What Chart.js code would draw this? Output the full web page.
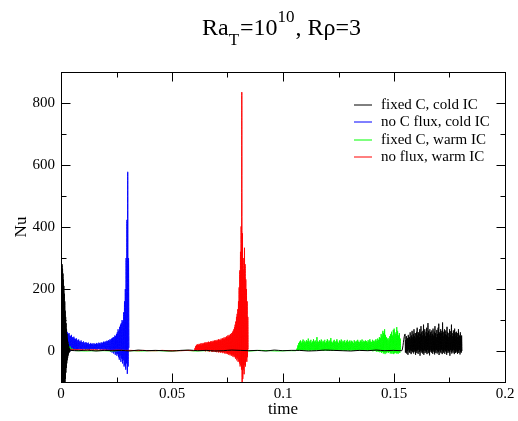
<!DOCTYPE html>
<html>
<head>
<meta charset="utf-8">
<script src="https://cdn.jsdelivr.net/npm/chart.js@4.4.0/dist/chart.umd.min.js"></script>
<style>
    body { margin: 0; background: #fff; }
    canvas { display: block; }
</style>
</head>
<body>
<canvas id="nuChart" width="518" height="421"></canvas>
<script>
// Axis ticks
const xTicks = [0, 0.05, 0.1, 0.15, 0.2];
const xMinorTicks = [0.025, 0.075, 0.125, 0.175];
const yTicks = [0, 200, 400, 600, 800];
const yMinorTicks = [-100, 100, 300, 500, 700, 900];

const seriesNames = ['fixed C, cold IC', 'no C flux, cold IC', 'fixed C, warm IC', 'no flux, warm IC'];
const seriesColors = ['#000000', '#0000ff', '#00ff00', '#ff0000'];

// fixed C, cold IC (black)
const blackStartNu = [40, 285, -150, 275, -150, 280, -150, 265, -150, 250, -150, 230, -150, 210, -150, 185, -150, 160, -140, 130,
    -90, 110, -70, 90, -55, 70, -40, 55, -30, 40, -22, 30, -15, 22, -10, 15, -6, 10, -3, 6];
const blackFlatNu = [2, 1, 3, 0, 2, 1, 2, 0, 3, 1, 2, 1, 0, 2, 3, 1, 2, 0, 1, 3, 2, 1, 2, 0, 3, 1, 2, 2, 0, 1, 3, 2, 1, 0, 2, 1, 3, 1, 2, 1];
const blackEndPeaks = [55, 35, 48, 30, 42, 52, 38, 45, 60, 40,
    50, 65, 45, 55, 70, 48, 58, 42, 62, 75,
    50, 60, 45, 70, 55, 80, 60, 50, 65, 85,
    55, 70, 48, 62, 75, 58, 90, 65, 52, 70,
    60, 48, 66, 55, 72, 50, 62, 80, 58, 45,
    68, 55, 75, 88, 60, 50, 70, 58, 65, 92,
    62, 48, 70, 55, 66, 52, 78, 60, 45, 58,
    70, 52, 64, 85, 58, 48, 66, 55, 72, 60,
    50, 62, 45, 58, 70, 52, 48, 60, 42, 50];
const blackEndTroughs = [-5, 2, -8, 0, -12, 4, -3, -6, 2, -10,
    0, -4, 5, -8, -2, 3, -12, 0, -6, 2,
    -9, 4, -3, -15, 1, -5, 3, -8, -1, -12,
    2, -6, 0, -4, -10, 3, -7, 1, -14, -2,
    4, -5, 0, -9, 2, -3, -11, 1, -6, 3,
    -8, 0, -4, -13, 2, -2, -7, 4, -10, 0,
    -5, 3, -9, 1, -3, -12, 2, -6, 0, -4,
    -15, 3, -2, -8, 1, -5, 4, -10, -1, -6,
    2, -4, -9, 0, -6, 3, -11, -2, -5, 0];

// no C flux, cold IC (blue)
const bluePeaks = [108, 100, 95, 88, 82, 75, 70, 64, 60, 55,
    58, 50, 48, 52, 45, 43, 46, 40, 38, 41,
    36, 33, 37, 31, 30, 34, 29, 28, 31, 27,
    25, 29, 26, 24, 27, 23, 22, 26, 22, 24,
    21, 25, 23, 22, 26, 24, 23, 27, 25, 24,
    28, 26, 27, 30, 28, 31, 29, 33, 32, 35,
    33, 38, 36, 40, 42, 45, 43, 50, 48, 55,
    60, 70, 65, 78, 85, 90, 100, 95, 125, 160,
    200, 300, 423, 578, 300];
const blueTroughs = [-20, -26, 5, -15, 2, -10, 4, -8, 3, -5,
    5, 0, 4, 2, 6, 3, 5, 1, 6, 4,
    5, 6, 4, 7, 5, 6, 4, 5, 7, 6,
    5, 6, 7, 5, 6, 4, 6, 7, 5, 6,
    5, 7, 6, 4, 6, 5, 7, 6, 5, 4,
    6, 5, 3, 6, 4, 5, 2, 4, 3, 0,
    3, -2, 2, -5, 0, -8, -3, -12, -6, -15,
    -10, -20, -28, -15, -35, -25, -40, -30, -50, -45,
    -60, -40, -74, -50, 10];

// fixed C, warm IC (green)
const greenStartNu = [60, 15, 48, 10, 35, 6, 25, 4, 15, 3, 9, 2, 5, 1];
const greenFlatNu = [1, 0, 1, 1, 0, 2, 1, 0, 1, 1, 0, 1, 2, 0, 1, 1, 0, 1, 1, 0, 2, 1, 0, 1, 1];
const greenPeaks = [8, 18, 26, 30, 34, 27, 32, 37, 29, 33,
    28, 35, 31, 40, 29, 33, 36, 27, 31, 38,
    30, 34, 28, 45, 32, 29, 35, 31, 37, 28,
    33, 30, 36, 27, 32, 38, 29, 34, 31, 42,
    30, 27, 33, 36, 29, 32, 38, 30, 26, 34,
    31, 37, 28, 33, 30, 35, 27, 32, 36, 29,
    31, 34, 28, 33, 30, 26, 35, 31, 29, 33,
    36, 30, 28, 34, 31, 37, 29, 33, 30, 34,
    32, 28, 35, 30, 38, 31, 29, 36, 33, 30,
    34, 38, 32, 40, 36, 45, 42, 55, 48, 65,
    58, 70, 52, 45, 38, 42, 35, 48, 55, 62,
    50, 68, 72, 60, 55, 77, 65, 50, 58, 40];
const greenTroughs = [2, 0, 3, 1, 0, 2, 1, 3, 0, 2,
    1, 3, 0, 2, 1, 0, 3, 1, 2, 0,
    2, 1, 3, 0, 1, 2, 0, 3, 1, 2,
    0, 2, 1, 3, 0, 1, 2, 0, 3, 1,
    2, 0, 1, 3, 1, 0, 2, 1, 3, 0,
    1, 2, 0, 3, 1, 2, 0, 1, 3, 2,
    0, 1, 3, 0, 2, 1, 0, 2, 3, 1,
    0, 2, 1, 3, 0, 1, 2, 0, 3, 1,
    2, 0, 1, 3, 0, 2, 1, -1, 2, 0,
    1, -2, 0, -3, 1, -4, -2, -6, -3, -8,
    -5, -10, -4, -7, -2, -6, -3, -8, -5, -9,
    -4, -10, -7, -5, -8, -6, -9, -4, -6, 0];

// no flux, warm IC (red)
const redStartNu = [28, 8, 20, 5, 14, 4, 10, 4, 7, 4, 5];
const redFlatNu = [4, 4, 3, 4, 3, 3, 2, 3, 2, 2, 1, 2, 1, 1, 2, 1, 1, 1, 2, 1];
const redPeaks = [10, 16, 20, 18, 22, 19, 23, 21, 24, 20,
    25, 22, 26, 23, 27, 24, 28, 25, 29, 26,
    30, 27, 29, 31, 28, 32, 29, 33, 30, 34,
    31, 35, 32, 36, 33, 38, 34, 37, 35, 40,
    36, 41, 38, 43, 39, 45, 41, 47, 43, 50,
    46, 52, 48, 55, 50, 58, 60, 65, 70, 77,
    85, 95, 110, 120, 135, 160, 205, 260, 320, 402,
    835, 380, 263, 300, 333, 280, 231, 200, 160, 110];
const redTroughs = [2, 3, 1, 3, 2, 0, 3, 1, 2, 0,
    3, 1, 2, 0, 2, -1, 1, 0, 2, -1,
    1, -2, 0, 1, -2, 0, -3, 1, -2, 0,
    -3, -1, -4, 0, -2, -5, -1, -3, -6, -2,
    -4, -7, -3, -6, -8, -4, -9, -5, -10, -7,
    -12, -8, -14, -10, -15, -12, -18, -14, -20, -16,
    -25, -20, -30, -24, -35, -30, -40, -50, -45, -60,
    -150, -90, -60, -75, -45, -50, -30, -35, -20, 5];

// time spans [start, end] of each recorded piece
const blackSpans = [[0, 0.0039], [0.0042, 0.1535], [0.155, 0.1806]];
const blueSpans = [[0, 0.0306]];
const greenSpans = [[0, 0.0065], [0.007, 0.1058], [0.1063, 0.153]];
const redSpans = [[0, 0.005], [0.0055, 0.0600], [0.0604, 0.0843]];

function zip(peaks, troughs) {
    const out = [];
    for (let i = 0; i < peaks.length; i++) {
        out.push(peaks[i]);
        if (i < troughs.length) out.push(troughs[i]);
    }
    return out;
}

function toPoints(spans, pieces) {
    let pts = [];
    pieces.forEach((vals, k) => {
        const t0 = spans[k][0], t1 = spans[k][1];
        const dt = vals.length > 1 ? (t1 - t0) / (vals.length - 1) : 0;
        vals.forEach((v, i) => pts.push({x: t0 + i * dt, y: v}));
    });
    return pts;
}

const blackData = toPoints(blackSpans, [blackStartNu, blackFlatNu, zip(blackEndPeaks, blackEndTroughs)]);
const blueData = toPoints(blueSpans, [zip(bluePeaks, blueTroughs)]);
const greenData = toPoints(greenSpans, [greenStartNu, greenFlatNu, zip(greenPeaks, greenTroughs)]);
const redData = toPoints(redSpans, [redStartNu, redFlatNu, zip(redPeaks, redTroughs)]);

const FONT = "'Liberation Serif', 'Times New Roman', serif";

// frame, inward ticks, title, axis titles and legend (grace style)
const gracePlugin = {
    id: 'grace',
    afterDraw(chart) {
        const ctx = chart.ctx;
        const a = chart.chartArea;
        const xs = chart.scales.x, ys = chart.scales.y;
        const L = Math.round(a.left) + 0.5, R = Math.round(a.right) + 0.5;
        const T = Math.round(a.top) + 0.5, B = Math.round(a.bottom) + 0.5;
        ctx.save();
        ctx.strokeStyle = '#000';
        ctx.lineWidth = 1;
        ctx.strokeRect(L, T, R - L, B - T);
        ctx.beginPath();
        const tick = (vals, len) => {
            vals.forEach(v => {
                const px = Math.round(xs.getPixelForValue(v)) + 0.5;
                ctx.moveTo(px, B); ctx.lineTo(px, B - len);
                ctx.moveTo(px, T); ctx.lineTo(px, T + len);
            });
        };
        const ytick = (vals, len) => {
            vals.forEach(v => {
                const py = Math.round(ys.getPixelForValue(v)) + 0.5;
                ctx.moveTo(L, py); ctx.lineTo(L + len, py);
                ctx.moveTo(R, py); ctx.lineTo(R - len, py);
            });
        };
        tick(xTicks, 9);
        tick(xMinorTicks, 5);
        ytick(yTicks, 9);
        ytick(yMinorTicks, 5);
        ctx.stroke();

        ctx.fillStyle = '#000';
        // title: Ra_T=10^10, Rρ=3
        let x = 202;
        const parts = [
            ['Ra', 24, 0], ['T', 17, 10], ['=10', 24, 0], ['10', 17, -13], [', R\u03c1=3', 24, 0]
        ];
        ctx.textAlign = 'left';
        ctx.textBaseline = 'alphabetic';
        parts.forEach(p => {
            ctx.font = p[1] + 'px ' + FONT;
            ctx.fillText(p[0], x, 35 + p[2]);
            x += ctx.measureText(p[0]).width + (p[2] !== 0 ? 1 : 0);
        });

        // axis titles
        ctx.font = '17px ' + FONT;
        ctx.textAlign = 'center';
        ctx.textBaseline = 'middle';
        ctx.fillText('time', 283, 410);
        ctx.save();
        ctx.translate(22, 227);
        ctx.rotate(-Math.PI / 2);
        ctx.fillText('Nu', 0, 0);
        ctx.restore();

        // legend (soft 1px lines, as in the grace output)
        ctx.font = '15px ' + FONT;
        ctx.textAlign = 'left';
        ctx.textBaseline = 'middle';
        seriesNames.forEach((name, i) => {
            const y = Math.round(105 + i * 17.3);
            ctx.strokeStyle = seriesColors[i];
            ctx.lineWidth = 1;
            ctx.beginPath();
            ctx.moveTo(354, y);
            ctx.lineTo(372, y);
            ctx.stroke();
            ctx.fillStyle = '#000';
            ctx.fillText(name, 381, y);
        });
        ctx.restore();
    }
};

function makeSet(label, data, color, order) {
    return {
        label: label,
        data: data,
        borderColor: color,
        backgroundColor: color,
        borderWidth: 1,
        pointRadius: 0,
        // monotone keeps every sample instead of the per-pixel fast path
        cubicInterpolationMode: 'monotone',
        fill: false,
        clip: 0,
        order: order
    };
}

new Chart(document.getElementById('nuChart').getContext('2d'), {
    type: 'line',
    data: {
        datasets: [
            makeSet(seriesNames[0], blackData, seriesColors[0], 0),
            makeSet(seriesNames[1], blueData, seriesColors[1], 3),
            makeSet(seriesNames[2], greenData, seriesColors[2], 2),
            makeSet(seriesNames[3], redData, seriesColors[3], 1)
        ]
    },
    options: {
        responsive: false,
        animation: false,
        devicePixelRatio: 1,
        layout: {padding: {top: 72, right: 13, left: 0, bottom: 0}},
        plugins: {legend: {display: false}, tooltip: {enabled: false}, title: {display: false}},
        scales: {
            x: {
                type: 'linear',
                min: 0,
                max: 0.2,
                grid: {display: false, drawTicks: false},
                border: {display: false},
                afterBuildTicks: s => { s.ticks = xTicks.map(v => ({value: v})); },
                afterFit: s => { s.height = 39; },
                ticks: {
                    color: '#000',
                    padding: 3,
                    maxRotation: 0,
                    font: {family: FONT, size: 15},
                    callback: v => String(+Number(v).toFixed(3))
                }
            },
            y: {
                type: 'linear',
                min: -100,
                max: 900,
                grid: {display: false, drawTicks: false},
                border: {display: false},
                afterBuildTicks: s => { s.ticks = yTicks.map(v => ({value: v})); },
                afterFit: s => { s.width = 61; },
                ticks: {
                    color: '#000',
                    padding: 6,
                    font: {family: FONT, size: 15},
                    callback: v => String(v)
                }
            }
        }
    },
    plugins: [gracePlugin]
});
</script>
</body>
</html>
